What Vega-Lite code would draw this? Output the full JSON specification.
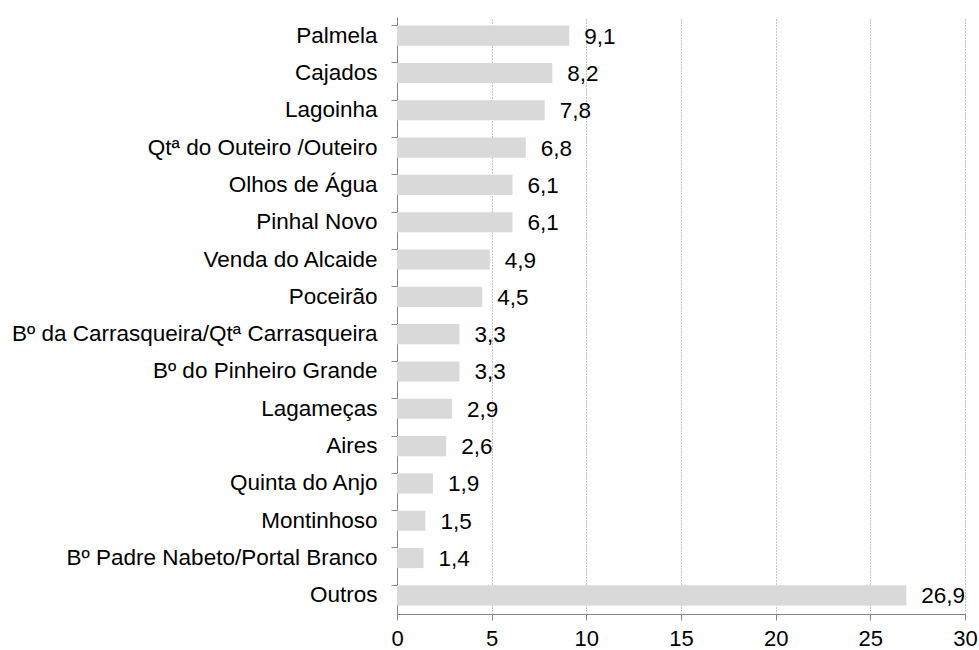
{
  "$schema": "https://vega.github.io/schema/vega-lite/v6.json",
  "width": 568,
  "height": 597,
  "autosize": {"type": "none"},
  "padding": {"left": 397, "top": 17, "right": 14, "bottom": 36},
  "background": "white",
  "config": {
    "view": {"stroke": null},
    "font": "Liberation Sans",
    "locale": {"number": {"decimal": ",", "thousands": ".", "grouping": [3], "currency": ["", " €"]}}
  },
  "data": {
    "values": [
      {"local": "Palmela", "valor": 9.1},
      {"local": "Cajados", "valor": 8.2},
      {"local": "Lagoinha", "valor": 7.8},
      {"local": "Qtª do Outeiro /Outeiro", "valor": 6.8},
      {"local": "Olhos de Água", "valor": 6.1},
      {"local": "Pinhal Novo", "valor": 6.1},
      {"local": "Venda do Alcaide", "valor": 4.9},
      {"local": "Poceirão", "valor": 4.5},
      {"local": "Bº da Carrasqueira/Qtª Carrasqueira", "valor": 3.3},
      {"local": "Bº do Pinheiro Grande", "valor": 3.3},
      {"local": "Lagameças", "valor": 2.9},
      {"local": "Aires", "valor": 2.6},
      {"local": "Quinta do Anjo", "valor": 1.9},
      {"local": "Montinhoso", "valor": 1.5},
      {"local": "Bº Padre Nabeto/Portal Branco", "valor": 1.4},
      {"local": "Outros", "valor": 26.9}
    ]
  },
  "encoding": {
    "y": {
      "field": "local",
      "type": "nominal",
      "sort": null,
      "title": null,
      "scale": {"paddingInner": 0.46, "paddingOuter": 0.23},
      "axis": {
        "bandPosition": 0,
        "domainColor": "#868686",
        "tickColor": "#868686",
        "tickSize": 6,
        "labelFontSize": 22.5,
        "labelColor": "#000000",
        "labelPadding": 14,
        "labelLimit": 500,
        "grid": false
      }
    },
    "x": {
      "field": "valor",
      "type": "quantitative",
      "title": null,
      "scale": {"domain": [0, 30], "nice": false, "zero": true},
      "axis": {
        "values": [0, 5, 10, 15, 20, 25, 30],
        "format": "d",
        "domainColor": "#868686",
        "tickColor": "#868686",
        "tickSize": 6,
        "labelFontSize": 22,
        "labelColor": "#000000",
        "labelPadding": 8,
        "grid": true,
        "gridColor": "#8c8c8c",
        "gridDash": [1, 2],
        "gridWidth": 1,
        "labelFlush": false
      }
    }
  },
  "layer": [
    {"mark": {"type": "bar", "color": "#d9d9d9"}},
    {
      "mark": {"type": "text", "align": "left", "baseline": "middle", "dx": 15, "dy": 1, "fontSize": 22.5, "color": "#000000"},
      "encoding": {"text": {"field": "valor", "type": "quantitative", "format": ".1f"}}
    }
  ]
}
